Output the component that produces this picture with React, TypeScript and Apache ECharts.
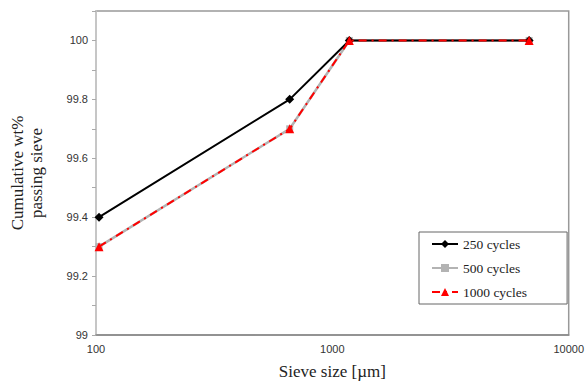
import React, { useEffect, useRef } from "react";
import * as echarts from "echarts";

const sieveSizes = [103, 660, 1180, 6800];
const cycles250 = [99.4, 99.8, 100, 100];
const cycles500 = [99.3, 99.7, 100, 100];
const cycles1000 = [99.3, 99.7, 100, 100];
const seriesNames = ["250 cycles", "500 cycles", "1000 cycles"];

const serif = "'Liberation Serif', 'DejaVu Serif', serif";
const sans = "'Liberation Sans', Arial, sans-serif";

export default function App() {
  const ref = useRef<HTMLDivElement>(null);
  useEffect(() => {
    if (!ref.current) return;
    const chart = echarts.init(ref.current, undefined, { renderer: "svg" });
    const pts = (vals: number[]) => sieveSizes.map((s, i) => [s, vals[i]]);
    chart.setOption({
      animation: false,
      backgroundColor: "#fff",
      grid: {
        left: 96,
        right: 15,
        top: 11,
        bottom: 45,
        show: true,
        borderColor: "#999",
        borderWidth: 1.5,
      },
      legend: {
        orient: "vertical",
        left: 419,
        top: 232,
        width: 120,
        padding: [5, 40, 5, 12],
        itemGap: 10,
        itemWidth: 26,
        itemHeight: 10,
        borderColor: "#666",
        borderWidth: 1,
        backgroundColor: "#fff",
        textStyle: { fontFamily: serif, fontSize: 13.5, color: "#222" },
        data: seriesNames,
      },
      xAxis: {
        type: "log",
        logBase: 10,
        min: 100,
        max: 10000,
        name: "Sieve size [\u00b5m]",
        nameLocation: "middle",
        nameGap: 28,
        nameTextStyle: { fontFamily: serif, fontSize: 17, color: "#222" },
        axisLine: { show: true, lineStyle: { color: "#888", width: 1.5 } },
        axisTick: { show: false },
        axisLabel: {
          fontFamily: sans,
          fontSize: 11,
          color: "#333",
          margin: 8,
          formatter: (v: number) => String(Math.round(v)),
        },
        splitLine: { show: false },
        minorTick: { show: false },
      },
      yAxis: {
        type: "value",
        min: 99,
        max: 100.1,
        interval: 0.1,
        name: "Cumulative wt%\npassing sieve",
        nameLocation: "middle",
        nameGap: 50,
        nameTextStyle: { fontFamily: serif, fontSize: 17, color: "#222", lineHeight: 19 },
        axisLine: { show: true, lineStyle: { color: "#ccc", width: 1.5 } },
        axisTick: { show: true, length: 4, lineStyle: { color: "#aaa" } },
        axisLabel: {
          fontFamily: sans,
          fontSize: 11,
          color: "#333",
          margin: 8,
          formatter: (v: number) => {
            const k = Math.round(v * 10);
            if (k % 2 !== 0 || v > 100.0001) return "";
            return String(+v.toFixed(1));
          },
        },
        splitLine: { show: false },
      },
      series: [
        {
          name: seriesNames[0],
          type: "line",
          data: pts(cycles250),
          symbol: "diamond",
          symbolSize: 9,
          itemStyle: { color: "#000" },
          lineStyle: { color: "#000", width: 2 },
          z: 3,
        },
        {
          name: seriesNames[1],
          type: "line",
          data: pts(cycles500),
          symbol: "rect",
          symbolSize: 7,
          itemStyle: { color: "#b3b3b3" },
          lineStyle: { color: "#b3b3b3", width: 2.5 },
          z: 2,
        },
        {
          name: seriesNames[2],
          type: "line",
          data: pts(cycles1000),
          symbol: "triangle",
          symbolSize: 9,
          itemStyle: { color: "#ff0000" },
          lineStyle: { color: "#ff0000", width: 2, type: [8, 5, 2, 5] },
          z: 4,
        },
      ],
    });
    return () => chart.dispose();
  }, []);
  return <div ref={ref} style={{ width: 587, height: 385, position: "absolute", left: 0, top: 0 }} />;
}
